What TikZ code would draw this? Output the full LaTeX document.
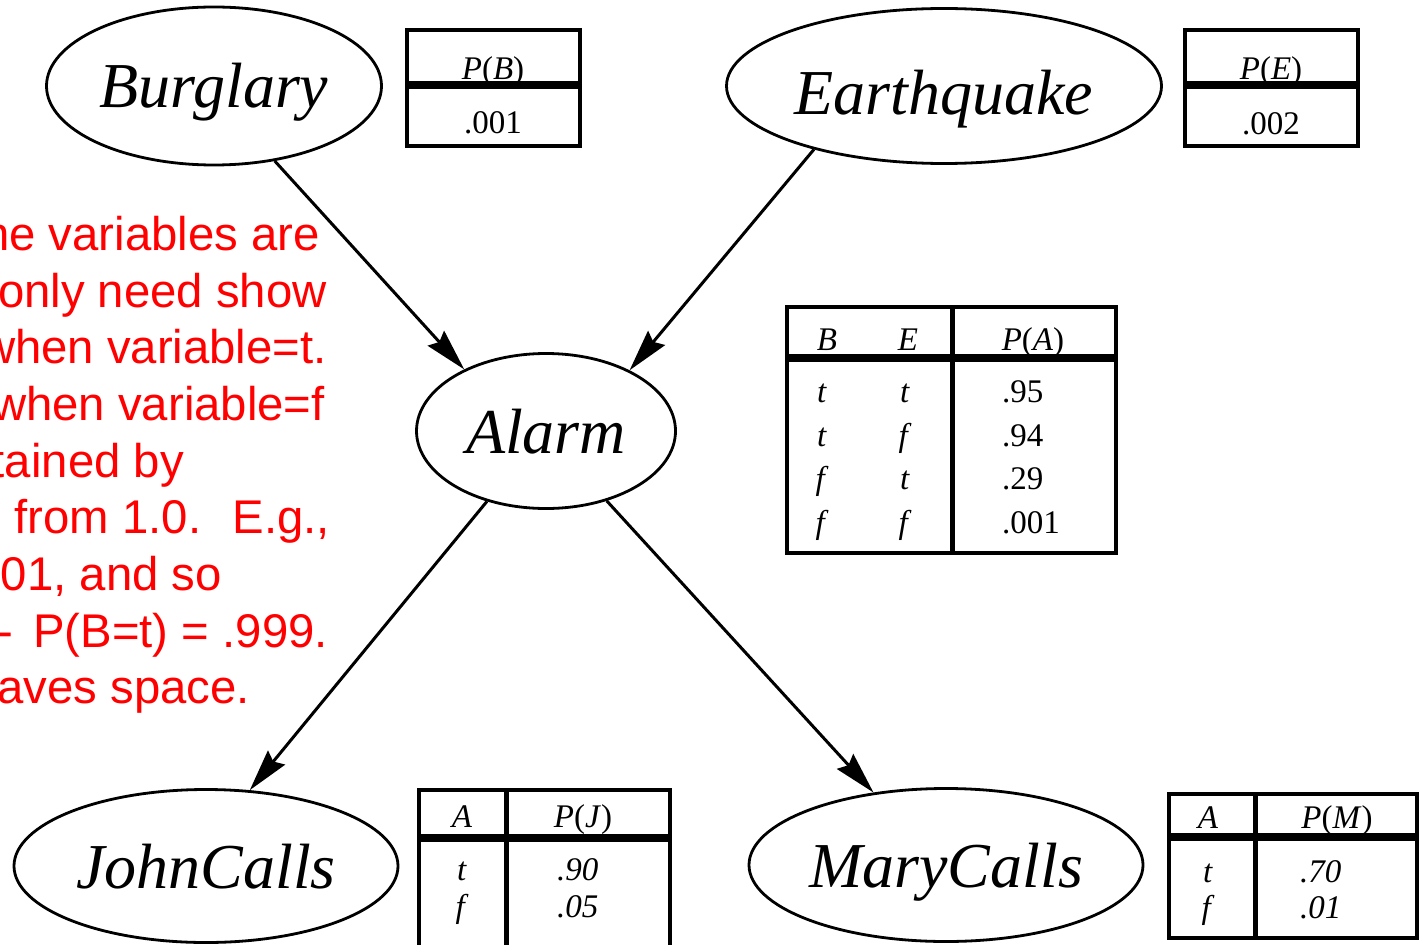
\documentclass[tikz,border=0pt]{standalone}
\usepackage{fontspec}
\setmainfont{Liberation Serif}
\newfontfamily\notefont{Liberation Sans}
\newfontfamily\tblfont{Liberation Serif}
\usetikzlibrary{arrows.meta}
\usetikzlibrary{shapes.geometric}
\usetikzlibrary{positioning}
\newcommand{\prb}[1]{\textit{P}(\textit{#1})}

\begin{document}
\begin{tikzpicture}[x=1pt,y=-1pt]
              \tikzstyle{varnode} = [ellipse, draw=black, line width=2.8pt, inner sep=0pt, text height=44pt, text depth=0pt, font=\fontsize{64}{70}\selectfont\itshape]
              \tikzstyle{link} = [line width=3pt, -{Stealth[length=42pt,width=22pt,inset=5pt]}]
              \tikzstyle{tblframe} = [draw=black, line width=4.5pt]
              \tikzstyle{tblrule} = [draw=black, line width=8pt]
              \tikzstyle{tblcol} = [draw=black, line width=5pt]
              \tikzstyle{tblcell} = [inner sep=0pt, anchor=base, font=\fontsize{33}{36}\tblfont]
              \tikzstyle{tblval} = [tblcell, anchor=base west]
              \tikzstyle{notetext} = [red, anchor=base east, inner sep=0pt, font=\fontsize{47.3}{56}\notefont]
              \useasboundingbox (0,0) rectangle (1420,944);
              \node (burglary) [varnode, minimum width=335pt, minimum height=158pt] at (214,86) {Burglary};
              \node (earthquake) [varnode, minimum width=435pt, minimum height=155pt, text height=58pt] at (944,86) {Earthquake};
              \node (alarm) [varnode, minimum width=259pt, minimum height=155pt] at (546,431) {Alarm};
              \node (john) [varnode, minimum width=384pt, minimum height=153pt] at (206,866) {JohnCalls};
              \node (mary) [varnode, minimum width=394pt, minimum height=153pt] at (946,865) {MaryCalls};
              \draw[link] (burglary.-51) -- (alarm.143);
              \draw[link] (earthquake.-154) -- (alarm.36);
              \draw[link] (alarm.230) -- (john.60);
              \draw[link] (alarm.-49) -- (mary.135);
              \draw[tblframe] (407,30) rectangle (580,146);
              \draw[tblrule] (407,85) -- (580,85);
              \node (pbh) [tblcell] at (493,80) {\prb{B}};
              \node (pbv) [tblcell] at (493,134) {.001};
              \draw[tblframe] (1185,30) rectangle (1358,146);
              \draw[tblrule] (1185,85) -- (1358,85);
              \node (peh) [tblcell] at (1271,80) {\prb{E}};
              \node (pev) [tblcell] at (1271,135) {.002};
              \draw[tblframe] (787,307) rectangle (1116,553);
              \draw[tblrule] (787,358) -- (1116,358);
              \draw[tblcol] (952,307) -- (952,553);
              \node (pab) [tblcell] at (827,350) {\textit{B}};
              \node (pae) [tblcell] at (908,350) {\textit{E}};
              \node (pah) [tblcell] at (1033,350) {\prb{A}};
              \node (pab1) [tblcell] at (822,402) {\textit{t}};
              \node (pae1) [tblcell] at (905,402) {\textit{t}};
              \node (pav1) [tblval] at (1002,402) {.95};
              \node (pab2) [tblcell] at (822,446) {\textit{t}};
              \node (pae2) [tblcell] at (905,446) {\textit{f}};
              \node (pav2) [tblval] at (1002,446) {.94};
              \node (pab3) [tblcell] at (822,489) {\textit{f}};
              \node (pae3) [tblcell] at (905,489) {\textit{t}};
              \node (pav3) [tblval] at (1002,489) {.29};
              \node (pab4) [tblcell] at (822,533) {\textit{f}};
              \node (pae4) [tblcell] at (905,533) {\textit{f}};
              \node (pav4) [tblval] at (1002,533) {.001};
              \draw[tblframe] (419,790) rectangle (670,948);
              \draw[tblrule] (419,838) -- (670,838);
              \draw[tblcol] (506,790) -- (506,948);
              \node (pja) [tblcell] at (462,827) {\textit{A}};
              \node (pjh) [tblcell] at (583,827) {\prb{J}};
              \node (pja1) [tblcell] at (462,880) {\textit{t}};
              \node (pjv1) [tblval] at (557,880) {\textit{.90}};
              \node (pja2) [tblcell] at (462,917) {\textit{f}};
              \node (pjv2) [tblval] at (557,917) {\textit{.05}};
              \draw[tblframe] (1169,794) rectangle (1417,938);
              \draw[tblrule] (1169,837) -- (1417,837);
              \draw[tblcol] (1255,794) -- (1255,938);
              \node (pma) [tblcell] at (1208,828) {\textit{A}};
              \node (pmh) [tblcell] at (1337,828) {\prb{M}};
              \node (pma1) [tblcell] at (1208,882) {\textit{t}};
              \node (pmv1) [tblval] at (1300,882) {\textit{.70}};
              \node (pma2) [tblcell] at (1208,918) {\textit{f}};
              \node (pmv2) [tblval] at (1300,918) {\textit{.01}};
              \node (note1) [notetext] at (320,250) {ne variables are};
              \node (note2) [notetext] at (327,307) {only need show};
              \node (note3) [notetext] at (327,363) {when variable=t.};
              \node (note4) [notetext] at (325,420) {when variable=f};
              \node (note5) [notetext] at (184,477) {tained by};
              \node (note6) [notetext] at (330,533) {from 1.0.\ \ \hspace{5pt}E.g.,};
              \node (note7) [notetext] at (222,590) {01, and so};
              \node (note8) [notetext] at (328,647) {-\hspace{7pt} P(B=t) = .999.};
              \node (note9) [notetext] at (250,703) {aves space.};
            \end{tikzpicture}
\end{document}
